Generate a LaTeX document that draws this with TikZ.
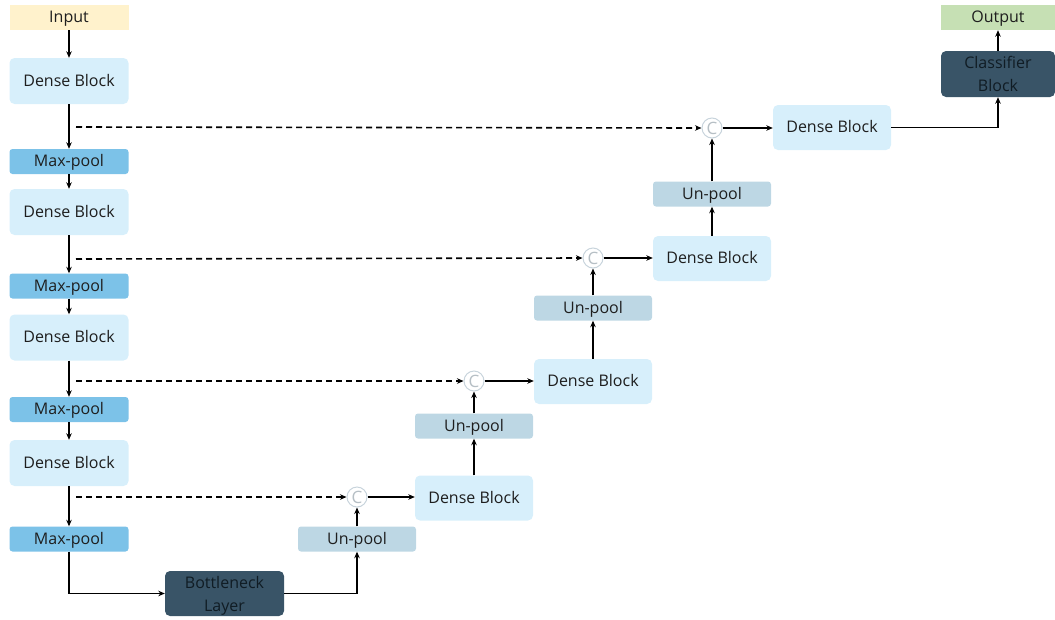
\documentclass[tikz,border=0pt]{standalone}
\usepackage{fontspec}
\setmainfont{Open Sans}
\usetikzlibrary{arrows.meta,calc}
\definecolor{inyel}{HTML}{FFF2CC}
\definecolor{dense}{HTML}{D7EFFB}
\definecolor{mpool}{HTML}{7CC2E8}
\definecolor{upool}{HTML}{BDD7E4}
\definecolor{dark}{HTML}{395467}
\definecolor{outgr}{HTML}{C6E0B4}
\definecolor{txt}{HTML}{1E1E1E}
\definecolor{dtxt}{HTML}{101C24}
\definecolor{cring}{HTML}{C8D4DC}
\begin{document}
\begin{tikzpicture}[x=1pt,y=-1pt,
  box/.style={inner sep=0pt,font=\fontsize{16}{18}\selectfont,text=txt,text height=10.6pt,text depth=0pt},
  densebox/.style={box,fill=dense,rounded corners=5pt},
  mpbox/.style={box,fill=mpool,rounded corners=3pt},
  upbox/.style={box,fill=upool,rounded corners=3pt},
  darkbox/.style={inner sep=0pt,fill=dark,rounded corners=5pt,align=center,text=dtxt,font=\fontsize{16}{23}\selectfont,text depth=0pt},
  cat/.style={circle,draw=cring,fill=white,line width=1pt,minimum size=20pt,inner sep=0pt,text=cring!75!gray,font=\fontsize{17}{18}\selectfont},
  arr/.style={line width=1.6pt,-{Stealth[length=6.5pt,width=5.5pt]}},
  dsh/.style={arr,dash pattern=on 6pt off 4pt}]
\useasboundingbox (0,0) rectangle (1055,619);
% encoder
\node[box,fill=inyel,minimum width=119pt,minimum height=25pt] (in) at (69,17.5) {Input};
\node[densebox,minimum width=119pt,minimum height=46pt] (d1) at (69,81) {Dense Block};
\node[mpbox,minimum width=119pt,minimum height=25pt] (m1) at (69,161.5) {Max-pool};
\node[densebox,minimum width=119pt,minimum height=46pt] (d2) at (69,212) {Dense Block};
\node[mpbox,minimum width=119pt,minimum height=25pt] (m2) at (69,286) {Max-pool};
\node[densebox,minimum width=119pt,minimum height=46pt] (d3) at (69,337.5) {Dense Block};
\node[mpbox,minimum width=119pt,minimum height=25pt] (m3) at (69,409.5) {Max-pool};
\node[densebox,minimum width=119pt,minimum height=46pt] (d4) at (69,463) {Dense Block};
\node[mpbox,minimum width=119pt,minimum height=25pt] (m4) at (69,539) {Max-pool};
\node[darkbox,minimum width=119pt,minimum height=45pt] (bn) at (224.5,593.5) {Bottleneck\\Layer};
% decoder
\node[upbox,minimum width=118pt,minimum height=25pt] (u1) at (357,539) {Un-pool};
\node[cat] (c1) at (357,497) {C};
\node[densebox,minimum width=118pt,minimum height=45pt] (d5) at (474,498) {Dense Block};
\node[upbox,minimum width=118pt,minimum height=25pt] (u2) at (474,426) {Un-pool};
\node[cat] (c2) at (474,381) {C};
\node[densebox,minimum width=118pt,minimum height=45pt] (d6) at (593,381.5) {Dense Block};
\node[upbox,minimum width=118pt,minimum height=25pt] (u3) at (593,308) {Un-pool};
\node[cat] (c3) at (593,258) {C};
\node[densebox,minimum width=118pt,minimum height=45pt] (d7) at (712,258.5) {Dense Block};
\node[upbox,minimum width=118pt,minimum height=25pt] (u4) at (712,194) {Un-pool};
\node[cat] (c4) at (712,128) {C};
\node[densebox,minimum width=118pt,minimum height=45pt] (d8) at (832,127.5) {Dense Block};
\node[darkbox,minimum width=114pt,minimum height=46pt] (cl) at (998,74) {Classifier\\Block};
\node[box,fill=outgr,minimum width=114pt,minimum height=25pt] (out) at (998,17.5) {Output};
% encoder arrows
\draw[arr] (in) -- (d1);
\draw[arr] (d1) -- (m1);
\draw[arr] (m1) -- (d2);
\draw[arr] (d2) -- (m2);
\draw[arr] (m2) -- (d3);
\draw[arr] (d3) -- (m3);
\draw[arr] (m3) -- (d4);
\draw[arr] (d4) -- (m4);
\draw[arr] (m4.south) |- (bn.west);
\draw[arr] (bn.east) -| (u1.south);
% skip connections
\coordinate (s1) at (76,127);
\coordinate (s2) at (76,259);
\coordinate (s3) at (76,381);
\coordinate (s4) at (76,497);
\draw[dsh] (s1) -- (c4.west);
\draw[dsh] (s2) -- (c3.west);
\draw[dsh] (s3) -- (c2.west);
\draw[dsh] (s4) -- (c1.west);
% decoder arrows
\draw[arr] (u1) -- (c1);
\draw[arr] (c1) -- (d5.west |- c1);
\draw[arr] (d5) -- (u2);
\draw[arr] (u2) -- (c2);
\draw[arr] (c2) -- (d6.west |- c2);
\draw[arr] (d6) -- (u3);
\draw[arr] (u3) -- (c3);
\draw[arr] (c3) -- (d7.west |- c3);
\draw[arr] (d7) -- (u4);
\draw[arr] (u4) -- (c4);
\draw[arr] (c4) -- (d8.west |- c4);
\draw[arr] (d8.east) -| (cl.south);
\draw[arr] (cl) -- (out);
\end{tikzpicture}
\end{document}
